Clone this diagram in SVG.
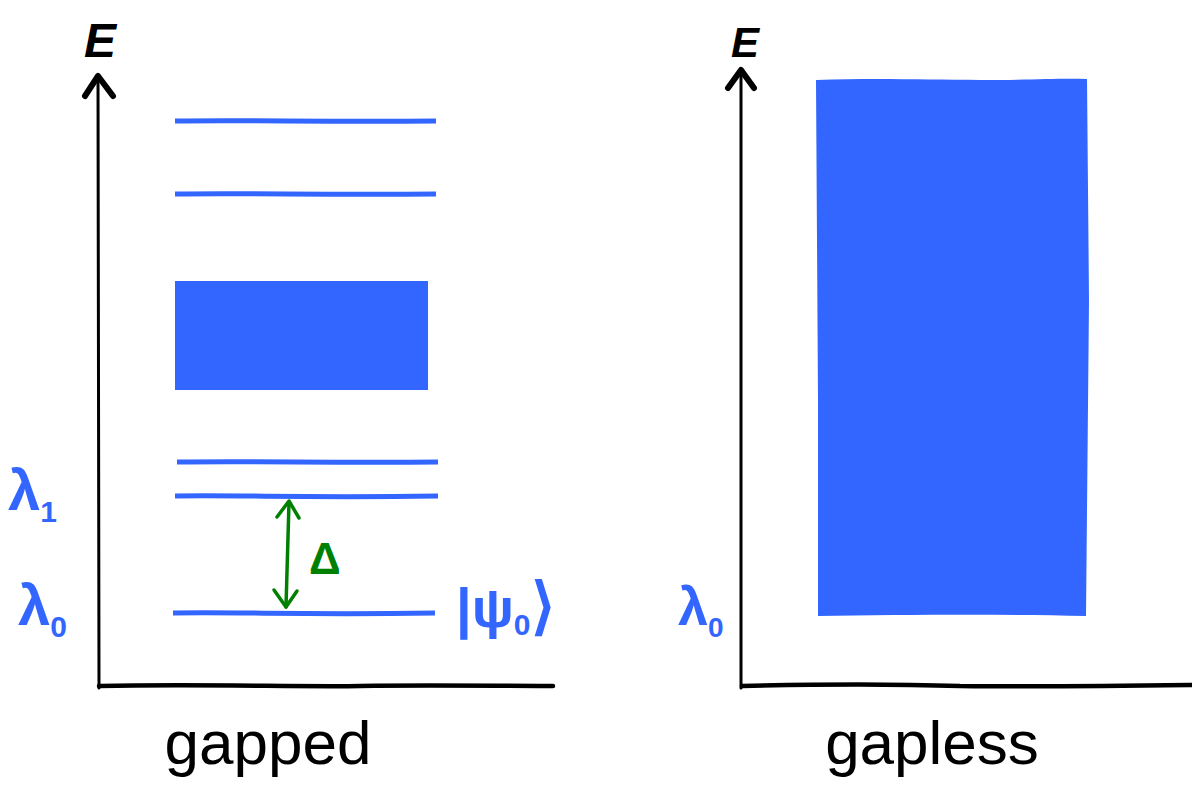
<svg xmlns="http://www.w3.org/2000/svg" width="1192" height="794" viewBox="0 0 1192 794">
<style>
.ax{stroke:#000;fill:none;stroke-linecap:round;stroke-linejoin:round}
.lv{stroke:#3366ff;stroke-width:5;fill:none;stroke-linecap:butt}
.band{fill:#3366ff}
.gr{stroke:#008000;stroke-width:3.5;fill:none;stroke-linecap:round;stroke-linejoin:round}
.e{font-family:"Liberation Sans",Arial,sans-serif;font-weight:bold;font-style:italic;fill:#000}
.bl{font-family:"Liberation Sans",Arial,sans-serif;font-weight:bold;fill:#3366ff}
.lab{font-family:"Liberation Sans",Arial,sans-serif;fill:#000}
</style>
<rect width="1192" height="794" fill="#fff"/>
<g id="left-axes">
<path class="ax" d="M98 78 L99 688" stroke-width="3"/>
<path class="ax" d="M85 96 L98 76 L113 96" stroke-width="6"/>
<path class="ax" d="M99 686 C200 684 300 687 360 686 C430 685 500 686 553 686" stroke-width="4.5"/>
<text class="e" x="84" y="57" font-size="48">E</text>
</g>
<g id="right-axes">
<path class="ax" d="M741 72 L741 688" stroke-width="3"/>
<path class="ax" d="M728 88 L741 70 L754 88" stroke-width="6"/>
<path class="ax" d="M742 686 C820 684 900 684 960 686 C1050 687 1120 686 1192 685" stroke-width="4.5"/>
<text class="e" x="731" y="57" font-size="42">E</text>
</g>
<g id="levels">
<path class="lv" d="M175 121 C250 120 320 122 436 121"/>
<path class="lv" d="M175 194 C250 193 320 195 436 194"/>
<path class="band" d="M175 281 L428 281 L428 390 L175 390 Z"/>
<path class="lv" d="M177 462 C260 461 330 463 438 462"/>
<path class="lv" d="M175 496 C250 495 300 498 438 496"/>
<path class="lv" d="M173 613 C250 612 300 615 435 613"/>
</g>
<g id="continuum">
<path class="band" d="M816 80 C880 78 930 80 980 80 C1030 80 1060 78 1087 79 L1089 300 L1086 616 C1000 614 900 615 818 616 L818 400 Z"/>
</g>
<g id="gap-arrow">
<path class="gr" d="M289 502 L286 607"/>
<path class="gr" d="M277 517 L289 501 L299 518" stroke-width="5"/>
<path class="gr" d="M274 590 L286 607 L297 591" stroke-width="5"/>
<text x="309" y="574" font-family="Liberation Sans,Arial,sans-serif" font-weight="bold" font-size="44" fill="#008000">Δ</text>
</g>
<g id="labels">
<text class="bl" x="8" y="510" font-size="58">λ<tspan font-size="30" dy="12">1</tspan></text>
<text class="bl" x="18" y="625" font-size="58">λ<tspan font-size="30" dy="12">0</tspan></text>
<text class="bl" x="456" y="627" font-size="56">|ψ<tspan font-size="30" dy="8">0</tspan><tspan dy="-8" font-size="62">⟩</tspan></text>
<text class="bl" x="678" y="625" font-size="54">λ<tspan font-size="28" dy="12">0</tspan></text>
<text class="lab" x="268" y="764" font-size="62" text-anchor="middle">gapped</text>
<text class="lab" x="932" y="764" font-size="62" text-anchor="middle">gapless</text>
</g>
</svg>
